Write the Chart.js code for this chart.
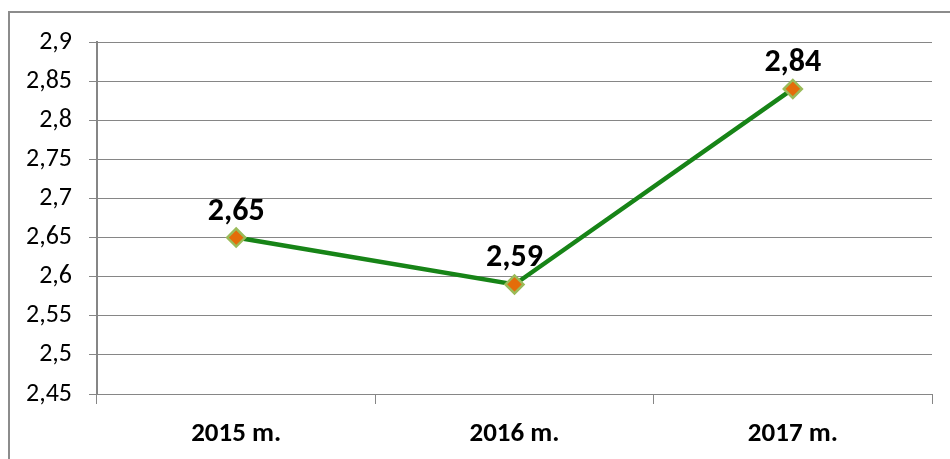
<!DOCTYPE html>
<html>
<head>
<meta charset="utf-8">
<script src="https://cdn.jsdelivr.net/npm/chart.js@4/dist/chart.umd.min.js"></script>
<style>
  html, body { margin: 0; padding: 0; background: #fff; overflow: hidden; }
  #wrap { position: relative; width: 950px; height: 459px; }
  #frame {
    position: absolute; left: 8px; top: 11px; width: 960px; height: 470px;
    border-left: 2px solid #8c8c8c; border-top: 2px solid #8c8c8c;
  }
  canvas { position: absolute; left: 0; top: 0; }
</style>
</head>
<body>
<div id="wrap">
  <div id="frame"></div>
  <canvas id="chart" width="950" height="459"></canvas>
</div>
<script>
// data
const years = ['2015 m.', '2016 m.', '2017 m.'];
const values = [2.65, 2.59, 2.84];
const yMin = 2.45;
const yMax = 2.9;
const yStep = 0.05;

const FONT = 'Carlito, Lato, sans-serif';
const fmt = v => v.toFixed(2).replace(/0$/, '').replace(/\.$/, '').replace('.', ',');

// draws the value above every point
const pointLabels = {
  id: 'pointLabels',
  afterDatasetsDraw(chart) {
    const ctx = chart.ctx;
    const meta = chart.getDatasetMeta(0);
    ctx.save();
    ctx.font = 'bold 32px ' + FONT;
    ctx.fillStyle = '#000';
    ctx.textAlign = 'center';
    ctx.textBaseline = 'middle';
    meta.data.forEach((pt, i) => {
      ctx.fillText(fmt(values[i]), pt.x, pt.y - 26);
    });
    ctx.restore();
  }
};

const ctx = document.getElementById('chart').getContext('2d');
const chart = new Chart(ctx, {
  type: 'line',
  data: {
    labels: years,
    datasets: [{
      data: values,
      borderColor: '#178417',
      borderWidth: 4.5,
      tension: 0,
      pointStyle: 'rectRot',
      pointRadius: 9,
      pointBackgroundColor: '#e46c0a',
      pointBorderColor: '#9bbb59',
      pointBorderWidth: 2.5,
    }],
  },
  options: {
    responsive: false,
    animation: false,
    layout: { padding: { left: 0, top: 42, right: 18, bottom: 0 } },
    plugins: {
      legend: { display: false },
      tooltip: { enabled: false },
    },
    scales: {
      y: {
        min: yMin,
        max: yMax,
        afterFit: s => { s.width = 97; },
        afterBuildTicks: s => {
          const t = [];
          for (let i = 0; i <= Math.round((yMax - yMin) / yStep); i++) {
            t.push({ value: +(yMin + i * yStep).toFixed(2) });
          }
          s.ticks = t;
        },
        grid: { color: '#868686', lineWidth: 1, tickLength: 8 },
        border: { color: '#868686', width: 2 },
        ticks: {
          padding: 17,
          color: '#000',
          font: { family: FONT, size: 26 },
          callback: v => fmt(v),
        },
      },
      x: {
        offset: true,
        afterFit: s => { s.height = 65; },
        grid: { offset: true, drawOnChartArea: false, color: '#868686', tickLength: 10 },
        border: { display: false },
        ticks: {
          padding: 14,
          color: '#000',
          font: { family: FONT, size: 27, weight: 'bold' },
        },
      },
    },
  },
  plugins: [pointLabels],
});
</script>
</body>
</html>
